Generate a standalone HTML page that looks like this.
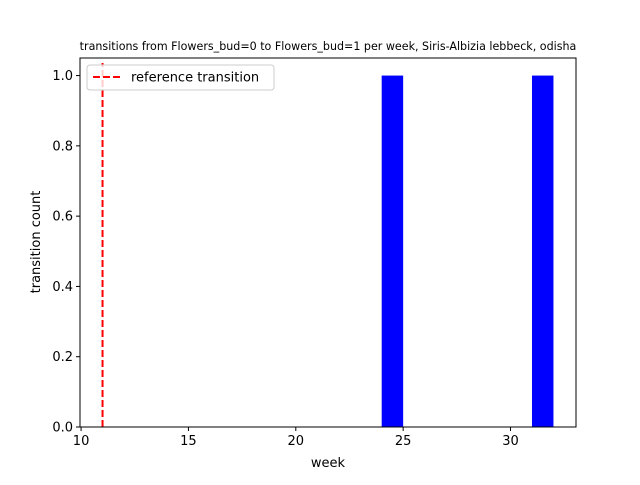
<!DOCTYPE html>
<html><head><meta charset="utf-8"><style>body{margin:0;background:#fff}svg{font-family:"DejaVu Sans","Liberation Sans",sans-serif}</style></head>
<body>
<svg width="640" height="480" xmlns="http://www.w3.org/2000/svg">
<rect width="640" height="480" fill="#fff"/>
<text x="328" y="50" font-size="11.1" text-anchor="middle">transitions from Flowers_bud=0 to Flowers_bud=1 per week, Siris-Albizia lebbeck, odisha</text>
<g id="marks"></g>
<g id="axes"></g>
<rect x="80" y="58" width="496" height="369" fill="none" stroke="#000" stroke-width="1"/>
<g>
<rect x="87" y="65" width="187" height="25" rx="3" fill="#fff" fill-opacity="0.8" stroke="#ccc"/>
<line x1="93" y1="77" x2="121" y2="77" stroke="red" stroke-width="2" stroke-dasharray="7,3"/>
<text x="131" y="81.5" font-size="13">reference transition</text>
</g>
<text x="328" y="467" font-size="13" text-anchor="middle">week</text>
<text transform="translate(40,242) rotate(-90)" font-size="13" text-anchor="middle">transition count</text>
</svg>
<script>
const weeks = [24, 31];
const counts = [1, 1];
const referenceWeek = 11;
const xTicks = [10, 15, 20, 25, 30];
const yTicks = [0.0, 0.2, 0.4, 0.6, 0.8, 1.0];
const X0=80,X1=576,Y0=427,Y1=58;
const xmin=9.95,xmax=33.05,ymin=0,ymax=1.05;
const sx=v=>X0+(v-xmin)/(xmax-xmin)*(X1-X0);
const sy=v=>Y0-(v-ymin)/(ymax-ymin)*(Y0-Y1);
const NS="http://www.w3.org/2000/svg";
const marks=document.getElementById('marks'),axes=document.getElementById('axes');
function mk(t,a,p){const e=document.createElementNS(NS,t);for(const k in a)e.setAttribute(k,a[k]);p.appendChild(e);return e;}
weeks.forEach((w,i)=>{
  const r=mk('rect',{x:sx(w),y:sy(counts[i]),width:sx(w+1)-sx(w),height:sy(0)-sy(counts[i]),fill:'#0000ff'},marks);
  
  
});
const rl=mk('line',{x1:sx(referenceWeek),x2:sx(referenceWeek),y1:Y0,y2:63,stroke:'red','stroke-width':2,'stroke-dasharray':'7,3'},marks);


xTicks.forEach(t=>{
  const x=sx(t);
  mk('line',{x1:x,x2:x,y1:Y0,y2:Y0+4,stroke:'#000'},axes);
  const tx=mk('text',{x:x,y:Y0+18,'font-size':13,'text-anchor':'middle'},axes);
  tx.textContent=t;
  
  
});
yTicks.forEach(t=>{
  const y=sy(t);
  mk('line',{x1:X0-4,x2:X0,y1:y,y2:y,stroke:'#000'},axes);
  const tx=mk('text',{x:X0-7,y:y+4.5,'font-size':13,'text-anchor':'end'},axes);
  tx.textContent=t.toFixed(1);
  
  
});
</script>
</body></html>
